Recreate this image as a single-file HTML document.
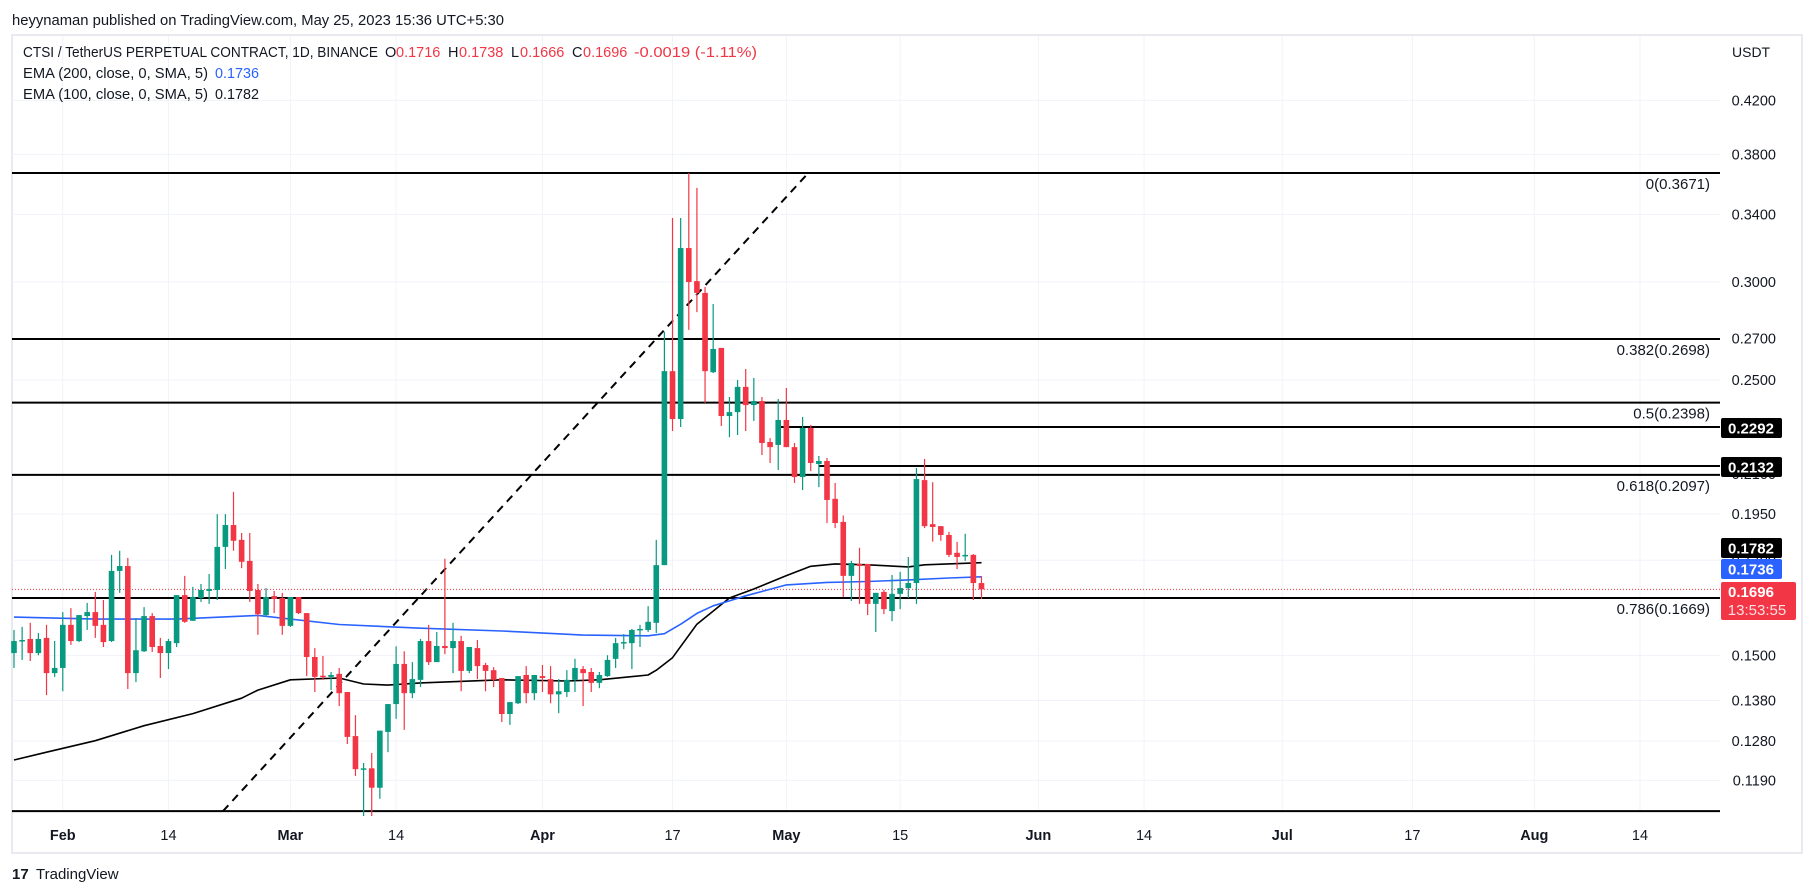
<!DOCTYPE html>
<html><head><meta charset="utf-8"><style>
html,body{margin:0;padding:0;background:#fff;}
svg{display:block;font-family:"Liberation Sans",sans-serif;}
</style></head><body>
<svg id="chart" width="1814" height="896" viewBox="0 0 1814 896" xmlns="http://www.w3.org/2000/svg">
<rect x="0" y="0" width="1814" height="896" fill="#ffffff"/>
<text x="12" y="25" font-size="14.5" fill="#131722" textLength="492" lengthAdjust="spacingAndGlyphs">heyynaman published on TradingView.com, May 25, 2023 15:36 UTC+5:30</text>
<rect x="12" y="35" width="1790" height="818" fill="none" stroke="#e0e3eb" stroke-width="1.5"/>
<g id="grid"></g>
<g id="fib"></g>
<g id="emas"></g>
<g id="candles"></g>
<g id="yaxis"></g>
<g id="xaxis"></g>
<g font-size="14.5">
 <text x="23" y="57" fill="#131722" textLength="355" lengthAdjust="spacingAndGlyphs">CTSI / TetherUS PERPETUAL CONTRACT, 1D, BINANCE</text>
 <text x="385" y="57" fill="#131722">O</text>
 <text x="396" y="57" fill="#F23645">0.1716</text>
 <text x="448" y="57" fill="#131722">H</text>
 <text x="459" y="57" fill="#F23645">0.1738</text>
 <text x="511" y="57" fill="#131722">L</text>
 <text x="520" y="57" fill="#F23645">0.1666</text>
 <text x="572" y="57" fill="#131722">C</text>
 <text x="583" y="57" fill="#F23645">0.1696</text>
 <text x="634" y="57" fill="#F23645" textLength="123" lengthAdjust="spacingAndGlyphs">-0.0019 (-1.11%)</text>
 <text x="23" y="78" fill="#131722" textLength="185" lengthAdjust="spacingAndGlyphs">EMA (200, close, 0, SMA, 5)</text>
 <text x="215" y="78" fill="#2962FF" textLength="44" lengthAdjust="spacingAndGlyphs">0.1736</text>
 <text x="23" y="99" fill="#131722" textLength="185" lengthAdjust="spacingAndGlyphs">EMA (100, close, 0, SMA, 5)</text>
 <text x="215" y="99" fill="#131722" textLength="44" lengthAdjust="spacingAndGlyphs">0.1782</text>
</g>
<text x="1732" y="57" font-size="14" fill="#131722">USDT</text>
<g>
 <text x="12" y="879" font-size="15" font-weight="bold" fill="#131722">17</text>
 <text x="36" y="879" font-size="15" fill="#131722">TradingView</text>
</g>
</svg>
<script>
// ---- data ----
const opens  = [.1507,.1541,.1547,.1507,.1550,.1452,.1466,.1588,.1541,.1614,.1626,.1588,.1541,.1755,.1771,.1452,.1512,.1614,.1527,.1507,.1535,.1678,.1600,.1669,.1691,.1694,.1835,.1911,.1859,.1788,.1694,.1617,.1675,.1669,.1585,.1672,.1623,.1496,.1445,.1442,.1450,.1402,.1292,.1215,.1217,.1174,.1302,.1371,.1477,.1399,.1434,.1541,.1482,.1527,.1521,.1541,.1458,.1521,.1474,.1460,.1439,.1346,.1373,.1447,.1399,.1444,.1436,.1396,.1402,.1434,.1463,.1455,.1426,.1444,.1491,.1535,.1535,.1573,.1573,.1594,.1774,.2542,.2326,.3194,.3004,.2939,.2537,.2654,.2339,.2356,.2469,.2387,.2405,.2229,.2217,.2322,.2208,.2089,.2288,.2140,.2152,.2006,.1922,.1739,.1778,.1778,.1651,.1688,.1629,.1682,.1700,.1716,.2077,.1914,.1907,.1876,.1815,.1805,.1808,.1716];
const highs  = [.1573,.1582,.1594,.1564,.1588,.1541,.1626,.1638,.1617,.1654,.1688,.1663,.1808,.1822,.1798,.1608,.1641,.1623,.1550,.1547,.1678,.1739,.1704,.1713,.1745,.1950,.1950,.2032,.1883,.1883,.1713,.1700,.1691,.1685,.1672,.1672,.1623,.1521,.1499,.1455,.1466,.1402,.1343,.1229,.1252,.1305,.1371,.1526,.1512,.1482,.1547,.1588,.1567,.1795,.1594,.1556,.1524,.1544,.1480,.1468,.1439,.1376,.1444,.1471,.1447,.1474,.1471,.1436,.1460,.1491,.1471,.1466,.1455,.1501,.1550,.1561,.1576,.1588,.1644,.1859,.2734,.3377,.3377,.3671,.3571,.2971,.2879,.2654,.2423,.2501,.2552,.2510,.2423,.2245,.2414,.2464,.2225,.2335,.2301,.2172,.2164,.2066,.1945,.1788,.1832,.1778,.1685,.1694,.1742,.1752,.1801,.2124,.2160,.2069,.1907,.1887,.1852,.1880,.1811,.1738];
const lows   = [.1466,.1488,.1485,.1501,.1394,.1442,.1404,.1530,.1538,.1573,.1550,.1524,.1538,.1685,.1410,.1428,.1510,.1510,.1439,.1463,.1524,.1594,.1600,.1657,.1651,.1663,.1761,.1822,.1764,.1657,.1559,.1611,.1623,.1559,.1582,.1620,.1444,.1402,.1434,.1407,.1366,.1273,.1200,.1114,.1114,.1150,.1254,.1334,.1307,.1386,.1415,.1474,.1482,.1504,.1452,.1404,.1452,.1436,.1404,.1415,.1326,.1319,.1371,.1373,.1381,.1402,.1373,.1348,.1389,.1402,.1366,.1402,.1412,.1442,.1466,.1518,.1463,.1524,.1567,.1564,.1774,.2275,.2292,.2744,.2836,.2397,.2533,.2296,.2249,.2258,.2275,.2318,.2176,.2144,.2116,.2208,.2066,.2039,.2112,.2050,.1918,.1900,.1672,.1660,.1651,.1617,.1567,.1620,.1599,.1635,.1669,.1651,.1900,.1853,.1856,.1801,.1761,.1788,.1663,.1666];
const closes = [.1541,.1544,.1507,.1547,.1452,.1466,.1588,.1541,.1617,.1626,.1585,.1538,.1755,.1771,.1452,.1515,.1614,.1524,.1507,.1541,.1678,.1597,.1672,.1694,.1697,.1835,.1911,.1856,.1785,.1691,.1620,.1672,.1666,.1585,.1672,.1623,.1496,.1442,.1442,.1447,.1399,.1290,.1215,.1217,.1174,.1305,.1371,.1477,.1399,.1436,.1541,.1482,.1527,.1521,.1541,.1458,.1524,.1471,.1458,.1434,.1346,.1376,.1444,.1399,.1447,.1439,.1396,.1404,.1434,.1466,.1452,.1426,.1447,.1488,.1535,.1538,.1573,.1576,.1597,.1774,.2542,.2326,.3194,.2999,.2939,.2542,.2649,.2339,.2356,.2469,.2387,.2405,.2225,.2208,.2322,.2208,.2089,.2288,.2144,.2152,.2002,.1918,.1739,.1781,.1771,.1651,.1685,.1635,.1682,.1700,.1716,.2081,.1907,.1904,.1876,.1808,.1801,.1808,.1716,.1696];
const ema200Idx  = [0,10,20,30,40,50,60,70,78,80,82,84,86,88,90,95,100,105,110,115,119];
const ema200Vals = [.1611,.1605,.1605,.1616,.1589,.1578,.1570,.1558,.1556,.1562,.1590,.1622,.1645,.1660,.1676,.1710,.1718,.1721,.1726,.1732,.1736];
const ema100Idx  = [0,4,10,16,22,28,30,34,40,43,46,50,60,68,72,78,79,81,84,88,91,95,98,101,105,110,112,119];
const ema100Vals = [.1236,.1254,.1281,.1317,.1347,.1386,.1407,.1434,.1439,.1423,.1420,.1426,.1434,.1431,.1434,.1447,.1460,.1494,.1590,.1669,.1697,.1740,.1770,.1778,.1775,.1768,.1775,.1782];
const fibRatios = [0,0.382,0.5,0.618,0.786,1];
const fibPrices = [0.3671,0.2698,0.2398,0.2097,0.1669,0.1124];
const fibTrendIdx = [25.7,97.7];
const yTicks = [0.4200,0.3800,0.3400,0.3000,0.2700,0.2500,0.2100,0.1950,0.1790,0.1500,0.1380,0.1280,0.1190];
const xTickIdx = [6,19,34,47,65,81,95,109,126,139,156,172,187,200];
const xTickLabels = ['Feb','14','Mar','14','Apr','17','May','15','Jun','14','Jul','17','Aug','14'];
const hLines = [0.2292,0.2132];
const hLineStartIdx = [94,99];
const lastPrice = 0.1696;

// ---- axes ----
const NS='http://www.w3.org/2000/svg';
const X0=14, DX=8.13, LEFT=12, RIGHT=1720;
const xOf=i=>X0+i*DX;
const yOf=p=>173+(Math.log(0.3671)-Math.log(p))*539.2;
function mk(tag,attrs,parent){const e=document.createElementNS(NS,tag);for(const k in attrs)e.setAttribute(k,attrs[k]);parent.appendChild(e);return e;}
const g=id=>document.getElementById(id);

yTicks.forEach(t=>{const l=mk('line',{x1:LEFT,x2:RIGHT,y1:yOf(t),y2:yOf(t),stroke:'#f0f3fa','stroke-width':1},g('grid'));

});
xTickIdx.forEach(i=>{const l=mk('line',{x1:xOf(i),x2:xOf(i),y1:36,y2:812,stroke:'#f0f3fa','stroke-width':1},g('grid'));

});

fibRatios.forEach((r,k)=>{
 const p=fibPrices[k]; const y=yOf(p);
 const l=mk('line',{x1:LEFT,x2:RIGHT,y1:y,y2:y,stroke:'#000','stroke-width':2},g('fib'));
 
 
 if(r<1){const t=mk('text',{x:1710,y:y+16,'text-anchor':'end','font-size':15,fill:'#131722'},g('fib'));
  t.textContent=r+'('+p.toFixed(4)+')';
  
  }
});
{const l=mk('line',{x1:xOf(fibTrendIdx[0]),y1:yOf(fibPrices[5]),x2:xOf(fibTrendIdx[1]),y2:yOf(fibPrices[0]),stroke:'#000','stroke-width':2,'stroke-dasharray':'8 6'},g('fib'));

}
hLines.forEach((p,k)=>{const l=mk('line',{x1:xOf(hLineStartIdx[k]),x2:RIGHT,y1:yOf(p),y2:yOf(p),stroke:'#000','stroke-width':2},g('fib'));

});
{const l=mk('line',{x1:LEFT,x2:RIGHT,y1:yOf(lastPrice),y2:yOf(lastPrice),stroke:'#F23645','stroke-width':1,'stroke-dasharray':'1 2'},g('fib'));

}

function emaPath(idx,vals,color,name){
 const d=idx.map((i,k)=>(k?'L':'M')+xOf(i).toFixed(1)+' '+yOf(vals[k]).toFixed(1)).join(' ');
 const p=mk('path',{d:d,fill:'none',stroke:color,'stroke-width':1.6,'stroke-linejoin':'round'},g('emas'));
 
 
}
emaPath(ema100Idx,ema100Vals,'#000000','ema100-line');
emaPath(ema200Idx,ema200Vals,'#2962FF','ema200-line');

closes.forEach((c,i)=>{
 const o=opens[i],h=highs[i],lo=lows[i];const up=c>=o;const col=up?'#089981':'#F23645';
 const x=xOf(i);
 const w=mk('line',{x1:x,x2:x,y1:yOf(h),y2:yOf(lo),stroke:col,'stroke-width':1.2},g('candles'));
 
 
 const yt=yOf(Math.max(o,c)),yb=yOf(Math.min(o,c));
 const b=mk('rect',{x:x-2.8,y:yt,width:5.6,height:Math.max(1.5,yb-yt),fill:col},g('candles'));
 
 
});

yTicks.forEach(t=>{const e=mk('text',{x:1776,y:yOf(t)+5,'text-anchor':'end','font-size':14.5,fill:'#131722'},g('yaxis'));
 e.textContent=t.toFixed(4);
 
 });
const boxes=[[0.2292,428,'#000','#fff',61],[0.2132,467,'#000','#fff',61],[0.1782,548,'#000','#fff',61],[0.1736,569,'#2962FF','#fff',61]];
boxes.forEach(b=>{
 const r=mk('rect',{x:1721,y:b[1]-10,width:b[4],height:20,rx:2,fill:b[2]},g('yaxis'));
 
 
 const t=mk('text',{x:1751,y:b[1]+5.5,'text-anchor':'middle','font-size':15,'font-weight':'bold',fill:b[3]},g('yaxis'));
 t.textContent=b[0].toFixed(4);
 
 
});
{const r=mk('rect',{x:1721,y:582,width:75,height:38,rx:2,fill:'#F23645'},g('yaxis'));
 
 
 const t1=mk('text',{x:1751,y:597,'text-anchor':'middle','font-size':15,'font-weight':'bold',fill:'#fff'},g('yaxis'));
 t1.textContent=lastPrice.toFixed(4);
 
 
 const t2=mk('text',{x:1757,y:615,'text-anchor':'middle','font-size':15,fill:'#fde0e3'},g('yaxis'));
 t2.textContent='13:53:55';
 
 }

xTickIdx.forEach((i,k)=>{const lab=xTickLabels[k];const month=isNaN(+lab);
 const t=mk('text',{x:xOf(i),y:840,'text-anchor':'middle','font-size':14.5,fill:'#131722','font-weight':month?'bold':'normal'},g('xaxis'));
 t.textContent=lab;
 
 });
</script>
</body></html>
